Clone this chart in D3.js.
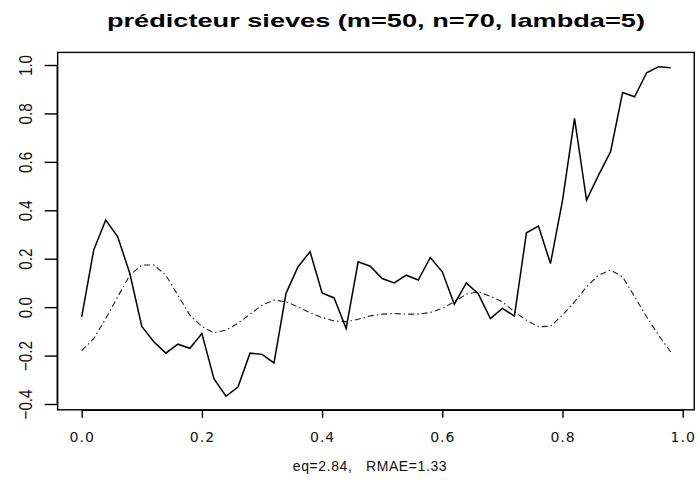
<!DOCTYPE html>
<html>
<head>
<meta charset="utf-8">
<script src="https://cdn.jsdelivr.net/npm/d3@7"></script>
<style>
  body { margin: 0; background: #fff; }
  svg { display: block; }
</style>
</head>
<body>
<div id="root"></div>
<script>
// sample points (m=50)
var xs = [0.00, 0.02, 0.04, 0.06, 0.08, 0.10, 0.12, 0.14, 0.16, 0.18,
          0.20, 0.22, 0.24, 0.26, 0.28, 0.30, 0.32, 0.34, 0.36, 0.38,
          0.40, 0.42, 0.44, 0.46, 0.48, 0.50, 0.52, 0.54, 0.56, 0.58,
          0.60, 0.62, 0.64, 0.66, 0.68, 0.70, 0.72, 0.74, 0.76, 0.78,
          0.80, 0.82, 0.84, 0.86, 0.88, 0.90, 0.92, 0.94, 0.96, 0.98];

// predicteur sieves (solid)
var predicteur = [-0.04, 0.236, 0.36, 0.29, 0.14, -0.08, -0.143, -0.19, -0.153, -0.17,
                  -0.109, -0.295, -0.368, -0.33, -0.19, -0.195, -0.23, 0.057, 0.167, 0.229,
                  0.059, 0.038, -0.088, 0.187, 0.169, 0.118, 0.10, 0.132, 0.112, 0.205,
                  0.146, 0.012, 0.10, 0.054, -0.047, -0.005, -0.037, 0.307, 0.335, 0.18,
                  0.44, 0.78, 0.442, 0.545, 0.642, 0.886, 0.869, 0.968, 0.993, 0.989];

// vraie fonction (dot-dash)
var vraie = [-0.18, -0.13, -0.047, 0.043, 0.132, 0.174, 0.174, 0.132, 0.05, -0.033,
             -0.08, -0.106, -0.095, -0.067, -0.029, 0.008, 0.029, 0.022, 0.001, -0.023,
             -0.043, -0.057, -0.06, -0.05, -0.036, -0.029, -0.026, -0.029, -0.029, -0.022,
             -0.005, 0.022, 0.054, 0.063, 0.045, 0.022, -0.019, -0.054, -0.081, -0.079,
             -0.033, 0.022, 0.084, 0.132, 0.153, 0.125, 0.043, -0.04, -0.116, -0.185];

var xTicks = [0, 0.2, 0.4, 0.6, 0.8, 1.0];
var yTicks = [-0.4, -0.2, 0, 0.2, 0.4, 0.6, 0.8, 1.0];

var title = 'prédicteur sieves (m=50, n=70, lambda=5)';
var subtitle = 'eq=2.84,   RMAE=1.33';

function sievesPlot () {

  var width = 699;
  var height = 485;

  var x = d3.scaleLinear().domain([0, 1]).range([81.7, 682.7]);
  var y = d3.scaleLinear().domain([-0.4, 1.0]).range([404, 65]);

  // plot region (R style, 4% padding)
  var x0 = x(-0.04), x1 = x(1.0192);
  var y0 = y(-0.424), y1 = y(1.052);

  var svg = d3.select('#root')
    .append('svg')
      .attr('width', width)
      .attr('height', height);

  svg.append('rect')
    .attr('width', width)
    .attr('height', height)
    .style('fill', '#fff');

  // box
  svg.append('rect')
    .attr('x', x0)
    .attr('y', y1)
    .attr('width', x1 - x0)
    .attr('height', y0 - y1)
    .style('fill', 'none')
    .style('stroke', '#000')
    .style('stroke-width', 1.4);

  // x axis
  var xAxis = svg.append('g')
    .attr('transform', 'translate(0,' + y0 + ')')
    .call(d3.axisBottom(x).tickValues(xTicks).tickFormat(d3.format('.1f'))
      .tickSize(8).tickPadding(14));
  xAxis.select('.domain')
    .attr('d', 'M' + x(0) + ',0.5H' + x(1))
    .style('stroke-width', 1.2);
  xAxis.selectAll('.tick line').style('stroke-width', 1.4);
  xAxis.selectAll('.tick text')
    .style('font-family', '"DejaVu Sans", sans-serif')
    .style('font-size', '14px')
    .style('letter-spacing', '1px')
    .style('fill', '#111');

  // y axis, labels turned like R's las=0
  var yAxis = svg.append('g')
    .attr('transform', 'translate(' + x0 + ',0)')
    .call(d3.axisLeft(y).tickValues(yTicks).tickFormat(d3.format('.1f'))
      .tickSize(13).tickPadding(0));
  yAxis.select('.domain')
    .attr('d', 'M-0.5,' + y(-0.4) + 'V' + y(1.0))
    .style('stroke-width', 1.2);
  yAxis.selectAll('.tick line').style('stroke-width', 1.4);
  yAxis.selectAll('.tick text')
    .attr('x', 0)
    .attr('y', 0)
    .attr('dy', null)
    .attr('text-anchor', 'middle')
    .attr('transform', 'translate(' + (25 - x0) + ',0) rotate(-90) scale(0.8,1)')
    .style('dominant-baseline', 'central')
    .style('font-family', '"Liberation Sans", Arial, sans-serif')
    .style('font-size', '19px')
    .style('fill', '#111');

  // lines
  var line = d3.line()
    .x(function(d) { return x(d[0]); })
    .y(function(d) { return y(d[1]); });

  svg.append('path')
    .datum(d3.zip(xs, vraie))
    .attr('d', line)
    .style('fill', 'none')
    .style('stroke', '#222')
    .style('stroke-width', 1.1)
    .style('stroke-dasharray', '6,3,1.5,3');

  svg.append('path')
    .datum(d3.zip(xs, predicteur))
    .attr('d', line)
    .style('fill', 'none')
    .style('stroke', '#000')
    .style('stroke-width', 1.5)
    .style('stroke-linejoin', 'miter');

  // title
  svg.append('text')
    .attr('x', (x0 + x1) / 2)
    .attr('y', 27)
    .attr('text-anchor', 'middle')
    .attr('textLength', 538)
    .attr('lengthAdjust', 'spacingAndGlyphs')
    .style('font-family', '"Liberation Sans", Arial, sans-serif')
    .style('font-weight', 'bold')
    .style('font-size', '19px')
    .text(title);

  // subtitle
  svg.append('text')
    .attr('x', 370)
    .attr('y', 471)
    .attr('text-anchor', 'middle')
    .style('font-family', '"Liberation Sans", Arial, sans-serif')
    .style('font-size', '14px')
    .style('letter-spacing', '0.6px')
    .style('white-space', 'pre')
    .style('fill', '#111')
    .text(subtitle);

}

sievesPlot();
</script>
</body>
</html>
